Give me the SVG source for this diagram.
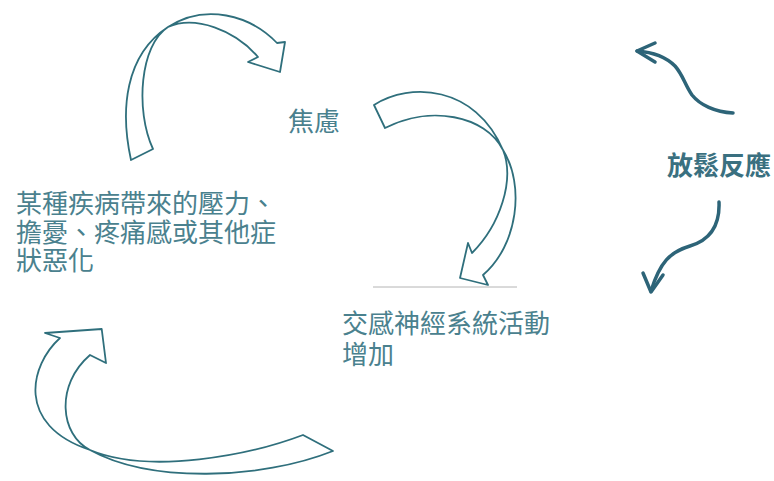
<svg xmlns="http://www.w3.org/2000/svg" width="774" height="481" viewBox="0 0 774 481">
<style>
.txt{font-family:"Noto Sans CJK TC","Noto Sans CJK SC",sans-serif;font-size:26px;fill:#4a818e}
.bold{font-weight:bold;fill:#3a7080}
.ribbon{fill:#fff;stroke:#2f6f7c;stroke-width:1.8;stroke-linejoin:round}
.wave{fill:none;stroke:#2d6478;stroke-width:3.5;stroke-linecap:round;stroke-linejoin:round}
</style>
<rect width="774" height="481" fill="#fff"/>
<g id="connectors">
  <path class="ribbon" d="M131,160 C120,110 125,55 168,27 C205,3 250,15 277,43 L285,42 L280,72 L248,62 L258,57 C235,30 195,15 168,27 C140,45 135,110 153,149 Z"/>
  <path class="ribbon" d="M374,105 C410,82 475,85 503,150 C525,185 518,245 483,275 L488,285 L460,278 L468,243 L472,253 C500,225 515,180 503,150 C485,115 430,105 385,128 Z"/>
  <path class="ribbon" d="M60,338 C30,365 15,425 90,450 C150,483 260,480 333,451 L303,435 C250,455 150,475 90,450 C60,435 55,385 90,355 L106,363 L101.7,329 L45,333 Z"/>
  <path class="wave" d="M733,113 C715,112 700,105 692,95 C685,85 683,75 675,66 C665,56 650,52 637,51"/>
  <path class="wave" d="M655,43 L637,51 L655,62"/>
  <path class="wave" d="M719,202 C720,225 710,240 690,246 C670,252 660,262 651,291"/>
  <path class="wave" d="M643,273 L651,292 L663,275"/>
</g>
<line x1="373" y1="287" x2="517" y2="287" stroke="#b4b4b4" stroke-width="1"/>
<g id="node-anxiety"><text class="txt" x="288" y="131">焦慮</text></g>
<g id="node-illness">
  <text class="txt"><tspan x="16" y="213">某種疾病帶來的壓力、</tspan><tspan x="16" y="241.5">擔憂、疼痛感或其他症</tspan><tspan x="16" y="270">狀惡化</tspan></text>
</g>
<g id="node-sympathetic">
  <text class="txt"><tspan x="342" y="332.5">交感神經系統活動</tspan><tspan x="342" y="364">增加</tspan></text>
</g>
<g id="node-relax"><text class="txt bold" x="667" y="175">放鬆反應</text></g>
</svg>
